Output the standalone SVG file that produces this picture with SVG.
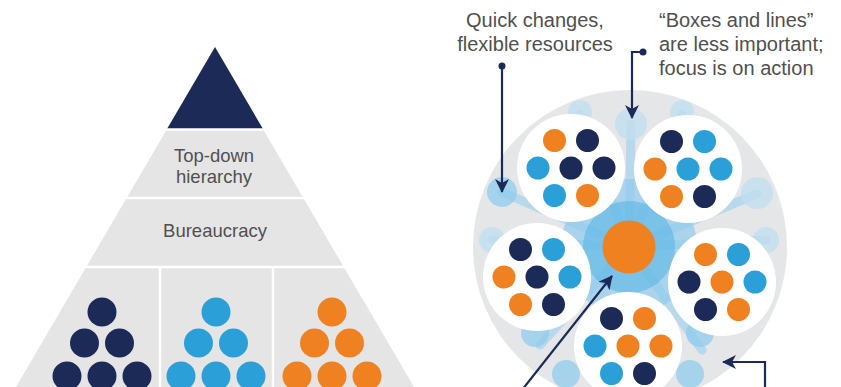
<svg xmlns="http://www.w3.org/2000/svg" width="841" height="387" viewBox="0 0 841 387">
<defs>
<style>
.lbl{font-family:"Liberation Sans",Arial,sans-serif;fill:#505050}
.pl{font-size:18.5px;text-anchor:middle}
.an{font-size:20px}
.nv{fill:#1b2a57}.bl{fill:#2a9fd8}.or{fill:#ef8121}
.con{stroke:#1b2a57;stroke-width:2.2;fill:none}
.sep{stroke:#ffffff;stroke-width:2.5}
.blob{fill:#8ccbee;opacity:0.7}
.pale{fill:#c2def0;opacity:0.8}
.stem{stroke:#a9d4ee;stroke-width:9;stroke-linecap:round;opacity:0.75}
.wc{fill:#ffffff}
</style>
<marker id="ah" viewBox="0 0 14 14" refX="13" refY="7" markerWidth="14" markerHeight="14" markerUnits="userSpaceOnUse" orient="auto">
<path d="M0,0 L14,7 L0,14 L4,7 z" fill="#1b2a57"/>
</marker>
</defs>
<rect width="841" height="387" fill="#ffffff"/>

<g id="pyramid">
<polygon points="215,47 414,387 16,387" fill="#e5e5e6"/>
<polygon points="215,47 263,129 167,129" fill="#1b2a57"/>
<line class="sep" x1="160" y1="129.5" x2="270" y2="129.5"/>
<line class="sep" x1="120" y1="198" x2="310" y2="198"/>
<line class="sep" x1="80" y1="267" x2="350" y2="267"/>
<line class="sep" x1="160" y1="267" x2="160" y2="387"/>
<line class="sep" x1="273" y1="267" x2="273" y2="387"/>
</g>
<g id="top-down">
<text class="lbl pl" x="214" y="161.5">Top-down</text>
<text class="lbl pl" x="214" y="183">hierarchy</text>
</g>
<g id="bureaucracy">
<text class="lbl pl" x="215" y="237">Bureaucracy</text>
</g>
<g id="team-navy" class="nv">
<circle cx="102" cy="312" r="14.5"/>
<circle cx="84.5" cy="343" r="14.5"/><circle cx="119.5" cy="343" r="14.5"/>
<circle cx="67" cy="376" r="14.5"/><circle cx="102" cy="376" r="14.5"/><circle cx="137" cy="376" r="14.5"/>
</g>
<g id="team-blue" class="bl">
<circle cx="216" cy="312" r="14.5"/>
<circle cx="198.5" cy="343" r="14.5"/><circle cx="233.5" cy="343" r="14.5"/>
<circle cx="181" cy="376" r="14.5"/><circle cx="216" cy="376" r="14.5"/><circle cx="251" cy="376" r="14.5"/>
</g>
<g id="team-orange" class="or">
<circle cx="332" cy="312" r="14.5"/>
<circle cx="314.5" cy="343" r="14.5"/><circle cx="349.5" cy="343" r="14.5"/>
<circle cx="297" cy="376" r="14.5"/><circle cx="332" cy="376" r="14.5"/><circle cx="367" cy="376" r="14.5"/>
</g>

<g id="network">
<circle cx="630" cy="247" r="157" fill="#e5e6e8"/>
<g>
<line class="stem" x1="629" y1="247" x2="631" y2="124"/>
<line class="stem" x1="629" y1="247" x2="502" y2="192"/>
<line class="stem" x1="629" y1="247" x2="757" y2="194"/>
<line class="stem" x1="629" y1="247" x2="702" y2="350"/>
<line class="stem" x1="629" y1="247" x2="540" y2="345"/>
<line class="stem" x1="629" y1="247" x2="580" y2="114"/>
<line class="stem" x1="629" y1="247" x2="682" y2="114"/>
<line class="stem" x1="629" y1="247" x2="492" y2="240"/>
<line class="stem" x1="629" y1="247" x2="766" y2="240"/>
</g>
<circle class="pale" cx="631" cy="124" r="16"/>
<circle class="pale" cx="580" cy="112" r="12"/>
<circle class="pale" cx="682" cy="112" r="12"/>
<circle class="blob" cx="502" cy="192" r="15"/>
<circle class="pale" cx="757" cy="193" r="16"/>
<circle class="pale" cx="492" cy="240" r="13"/>
<circle class="pale" cx="766" cy="240" r="13"/>
<circle class="blob" cx="535" cy="333" r="14"/>
<circle class="blob" cx="566" cy="374" r="14"/>
<circle class="blob" cx="700" cy="333" r="14"/>
<circle class="blob" cx="690" cy="374" r="14"/>
<circle cx="629" cy="247" r="68" fill="#8ccbee" opacity="0.65"/>
<circle cx="629" cy="247" r="46" fill="#5ab6e5" opacity="0.6"/>
</g>

<g id="center-node">
<circle cx="629" cy="247" r="26.5" class="or"/>
</g>
<g id="team-1">
<circle class="wc" cx="571" cy="168" r="54"/>
<circle class="or" cx="554.5" cy="140.5" r="11.5"/><circle class="nv" cx="587.5" cy="140.5" r="11.5"/>
<circle class="bl" cx="538" cy="168" r="11.5"/><circle class="nv" cx="571" cy="168" r="11.5"/><circle class="nv" cx="604" cy="168" r="11.5"/>
<circle class="bl" cx="554.5" cy="195.5" r="11.5"/><circle class="or" cx="587.5" cy="195.5" r="11.5"/>
</g>
<g id="team-2">
<circle class="wc" cx="688" cy="169" r="54"/>
<circle class="nv" cx="671.5" cy="141.5" r="11.5"/><circle class="bl" cx="704.5" cy="141.5" r="11.5"/>
<circle class="or" cx="655" cy="169" r="11.5"/><circle class="bl" cx="688" cy="169" r="11.5"/><circle class="bl" cx="721" cy="169" r="11.5"/>
<circle class="or" cx="671.5" cy="196.5" r="11.5"/><circle class="nv" cx="704.5" cy="196.5" r="11.5"/>
</g>
<g id="team-3">
<circle class="wc" cx="537" cy="277" r="54"/>
<circle class="nv" cx="520.5" cy="249.5" r="11.5"/><circle class="bl" cx="553.5" cy="249.5" r="11.5"/>
<circle class="or" cx="504" cy="277" r="11.5"/><circle class="nv" cx="537" cy="277" r="11.5"/><circle class="bl" cx="570" cy="277" r="11.5"/>
<circle class="or" cx="520.5" cy="304.5" r="11.5"/><circle class="nv" cx="553.5" cy="304.5" r="11.5"/>
</g>
<g id="team-4">
<circle class="wc" cx="722" cy="282" r="54"/>
<circle class="or" cx="705.5" cy="254.5" r="11.5"/><circle class="bl" cx="738.5" cy="254.5" r="11.5"/>
<circle class="nv" cx="689" cy="282" r="11.5"/><circle class="or" cx="722" cy="282" r="11.5"/><circle class="bl" cx="755" cy="282" r="11.5"/>
<circle class="nv" cx="705.5" cy="309.5" r="11.5"/><circle class="or" cx="738.5" cy="309.5" r="11.5"/>
</g>
<g id="team-5">
<circle class="wc" cx="628" cy="346" r="54"/>
<circle class="nv" cx="611.5" cy="318.5" r="11.5"/><circle class="or" cx="644.5" cy="318.5" r="11.5"/>
<circle class="bl" cx="595" cy="346" r="11.5"/><circle class="or" cx="628" cy="346" r="11.5"/><circle class="or" cx="661" cy="346" r="11.5"/>
<circle class="bl" cx="611.5" cy="373.5" r="11.5"/><circle class="nv" cx="644.5" cy="373.5" r="11.5"/>
</g>

<g id="label-quick">
<text class="lbl an" x="535" y="27" text-anchor="middle">Quick changes,</text>
<text class="lbl an" x="535" y="51" text-anchor="middle">flexible resources</text>
</g>
<g id="label-boxes">
<text class="lbl an" x="659" y="27">“Boxes and lines”</text>
<text class="lbl an" x="659" y="51">are less important;</text>
<text class="lbl an" x="659" y="75">focus is on action</text>
</g>

<g id="connectors">
<circle cx="502" cy="66" r="3.5" fill="#1b2a57"/>
<line class="con" x1="502" y1="66" x2="502" y2="192" marker-end="url(#ah)"/>
<circle cx="643" cy="52" r="3.5" fill="#1b2a57"/>
<polyline class="con" points="643,52 632,52 632,118" marker-end="url(#ah)"/>
<line class="con" x1="522" y1="390" x2="612" y2="276" marker-end="url(#ah)"/>
<polyline class="con" points="765,390 765,362 723,362" marker-end="url(#ah)"/>
</g>
</svg>
